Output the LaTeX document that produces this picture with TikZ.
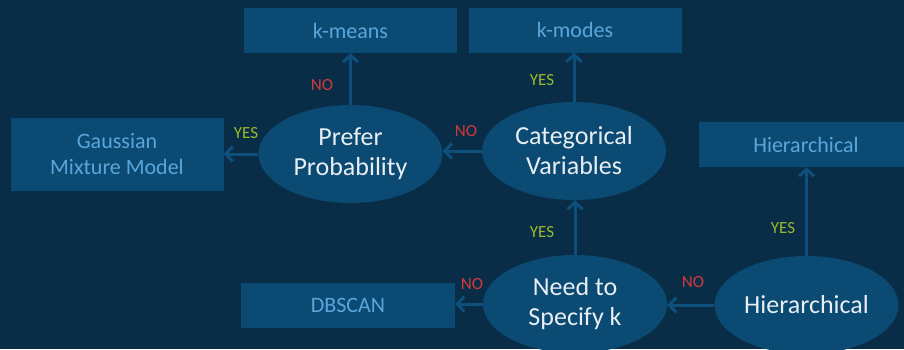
\documentclass[tikz,border=0pt]{standalone}
\usepackage{fontspec}
\setmainfont{Carlito}
\usetikzlibrary{arrows.meta,shapes.geometric}
\definecolor{bgnavy}{HTML}{0A2D47}
\definecolor{fillblue}{HTML}{0B4A73}
\definecolor{linkblue}{HTML}{0D4F7D}
\definecolor{boxtext}{HTML}{5AA6DB}
\definecolor{ovaltext}{HTML}{E8EEF3}
\definecolor{nored}{HTML}{D13A3C}
\definecolor{yesgreen}{HTML}{9CBB2B}
\tikzset{
  result/.style={rectangle, fill=fillblue, draw=none, minimum width=213pt, minimum height=45pt,
    inner sep=0pt, text=boxtext, align=center, font=\fontsize{22}{26}\selectfont},
  decision/.style={ellipse, fill=fillblue, draw=none, minimum width=184pt, minimum height=98pt,
    inner sep=0pt, text=ovaltext, align=center, font=\fontsize{26}{30}\selectfont},
  link/.style={draw=linkblue, line width=3pt, -{Straight Barb[length=7pt,width=15pt,line width=3pt]}},
  yeslbl/.style={text=yesgreen, font=\fontsize{17}{17}\selectfont},
  nolbl/.style={text=nored, font=\fontsize{17}{17}\selectfont},
}
\begin{document}
\begin{tikzpicture}[x=1pt, y=-1pt]
  \useasboundingbox (0,0) rectangle (904,349);
  \clip (0,0) rectangle (904,349);
  \fill[bgnavy] (0,0) rectangle (904,349);

  % outcomes
  \node[result] (kmeans) at (350.5,30.5) {k-means};
  \node[result] (kmodes) at (575,30) {k-modes};
  \node[result, minimum height=73pt] (gmm) at (117,154.5) {Gaussian\\Mixture Model};
  \node[result, minimum width=214pt] (hbox) at (806,144.5) {Hierarchical};
  \node[result, minimum width=214pt] (dbscan) at (348,305.5) {DBSCAN};

  % questions
  \node[decision] (pref) at (350.5,154) {Prefer\\Probability};
  \node[decision] (cat) at (574,151) {Categorical\\Variables};
  \node[decision] (need) at (575,304) {Need to\\Specify k};
  \node[decision] (hier) at (806.5,305) {Hierarchical};

  % connectors
  \draw[link] (pref.north) -- (pref.north |- kmeans.south);
  \draw[link] (pref.west) -- (gmm.east |- pref.west);
  \draw[link] (cat.west) -- (pref.east |- cat.west);
  \draw[link] (cat.north) -- (cat.north |- kmodes.south);
  \draw[link] (need.north) -- (need.north |- cat.south);
  \draw[link] (need.west) -- (dbscan.east |- need.west);
  \draw[link] (hier.west) -- (need.east |- hier.west);
  \draw[link] (hier.north) -- (hier.north |- hbox.south);

  % branch labels
  \node[nolbl] (l1) at (322,85) {NO};
  \node[yeslbl] (l2) at (246,133) {YES};
  \node[nolbl] (l3) at (466,131) {NO};
  \node[yeslbl] (l4) at (542,80) {YES};
  \node[yeslbl] (l5) at (542,232) {YES};
  \node[nolbl] (l6) at (472,284) {NO};
  \node[nolbl] (l7) at (693,282) {NO};
  \node[yeslbl] (l8) at (783,228) {YES};
\end{tikzpicture}
\end{document}
